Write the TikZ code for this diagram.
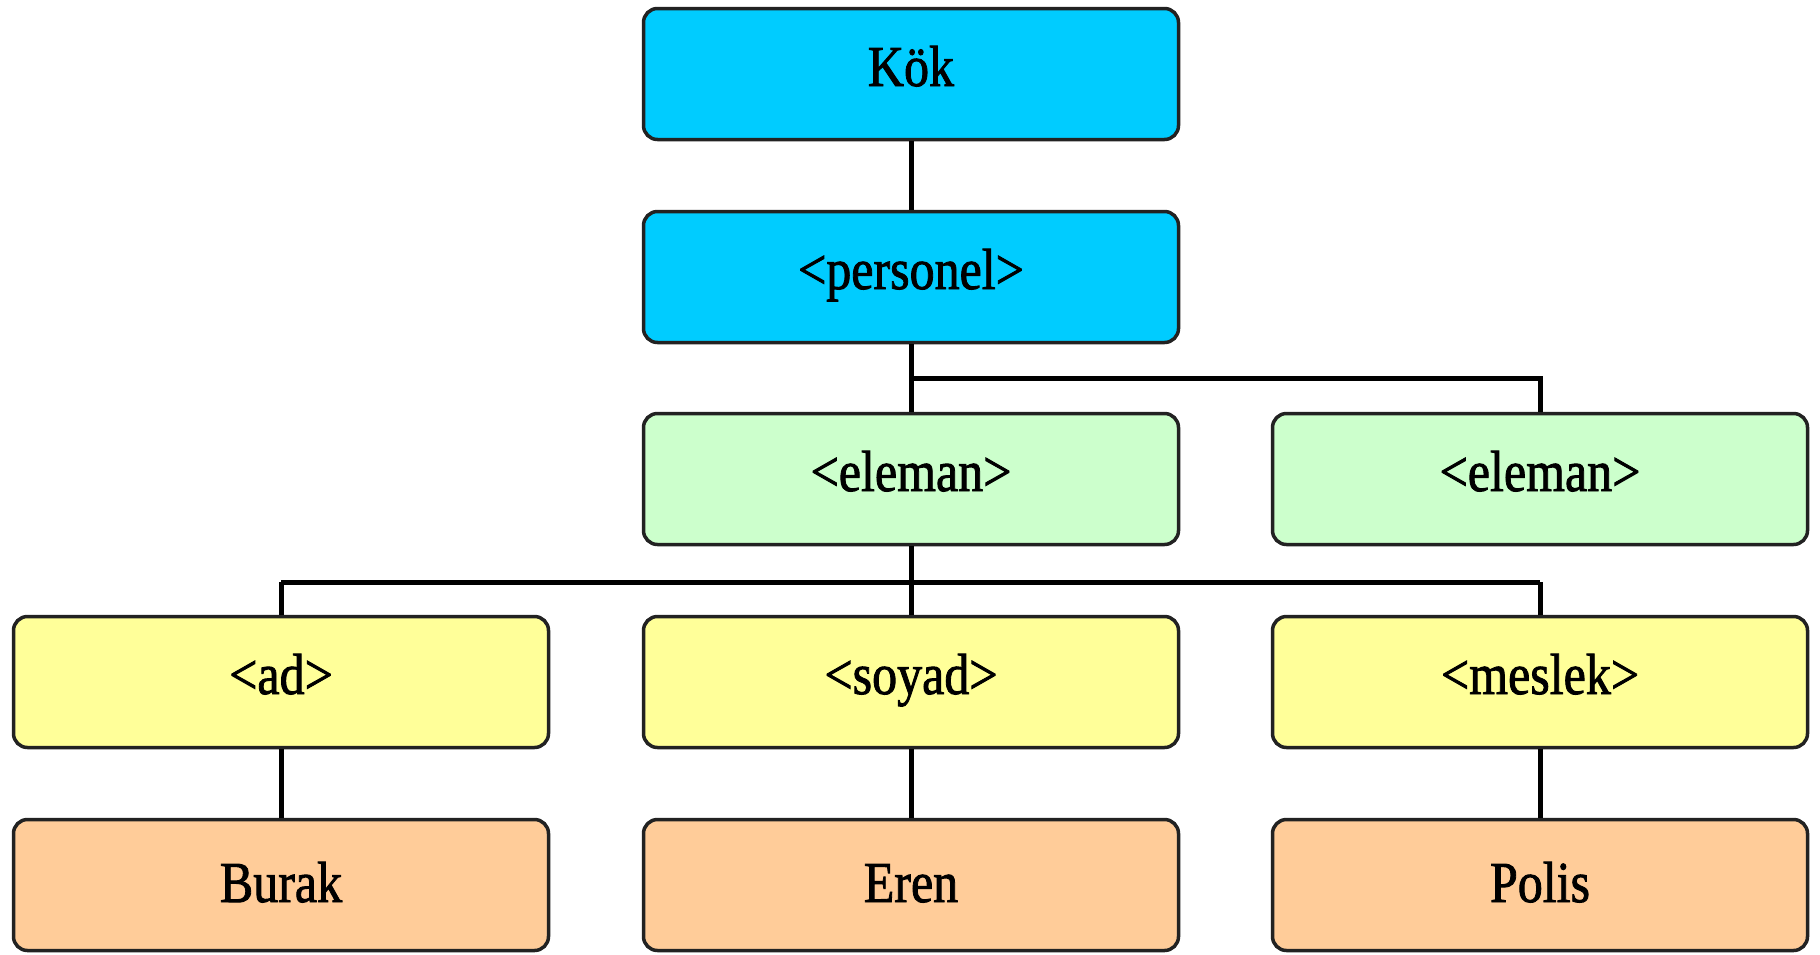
\documentclass[tikz,border=0pt]{standalone}
\usepackage{fontspec}
\setmainfont{Liberation Serif}
\newfontfamily\heavyfont{Liberation Serif}[FakeBold=1.6]
\newcommand{\lbl}[1]{\scalebox{1}[1.16]{#1}}
\definecolor{cyanbox}{HTML}{00CCFF}
\definecolor{greenbox}{HTML}{CCFFCC}
\definecolor{yellowbox}{HTML}{FFFF99}
\definecolor{orangebox}{HTML}{FFCC99}
\definecolor{edge}{HTML}{222222}
\begin{document}
\begin{tikzpicture}[x=1pt,y=-1pt,
  box/.style={draw=edge, line width=3.5pt, rounded corners=14pt, rectangle,
    minimum width=535pt, minimum height=131pt, inner sep=0pt, anchor=center,
    font=\heavyfont\fontsize{50}{55}\selectfont, text height=36pt, text depth=12pt},
  leafbox/.style={box, fill=orangebox, text depth=2pt},
  conn/.style={line width=5pt, draw=black}]
\useasboundingbox (0,0) rectangle (1820,954);
\fill[white] (0,0) rectangle (1820,954);
\coordinate (j1) at (911,378);
\coordinate (j1r) at (1540,378);
\coordinate (j2l) at (281,582);
\coordinate (j2r) at (1540,582);
\node[box, fill=cyanbox] (kok) at (911,74) {\lbl{Kök}};
\node[box, fill=cyanbox] (pers) at (911,277) {\lbl{<personel>}};
\node[box, fill=greenbox] (el1) at (911,479) {\lbl{<eleman>}};
\node[box, fill=greenbox] (el2) at (1540,479) {\lbl{<eleman>}};
\node[box, fill=yellowbox] (ad) at (281,682) {\lbl{<ad>}};
\node[box, fill=yellowbox] (soyad) at (911,682) {\lbl{<soyad>}};
\node[box, fill=yellowbox] (meslek) at (1540,682) {\lbl{<meslek>}};
\node[leafbox] (burak) at (281,885) {\lbl{Burak}};
\node[leafbox] (eren) at (911,885) {\lbl{Eren}};
\node[leafbox] (polis) at (1540,885) {\lbl{Polis}};
\draw[conn] (kok.south) -- (pers.north);
\draw[conn] (pers.south) -- (el1.north);
\draw[conn] (j1) -- (j1r) -- (el2.north);
\draw[conn] (el1.south) -- (soyad.north);
\draw[conn] (j2l) -- (j2r);
\draw[conn] (j2l) -- (ad.north);
\draw[conn] (j2r) -- (meslek.north);
\draw[conn] (ad.south) -- (burak.north);
\draw[conn] (soyad.south) -- (eren.north);
\draw[conn] (meslek.south) -- (polis.north);
\end{tikzpicture}
\end{document}
